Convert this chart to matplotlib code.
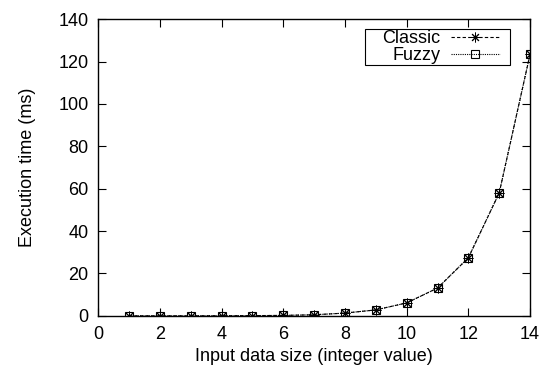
import matplotlib.pyplot as plt
from matplotlib.patches import Rectangle

plt.rcParams['font.family'] = ['Liberation Sans', 'DejaVu Sans']

# Execution time per input size (ms)
input_size = [1, 2, 3, 4, 5, 6, 7, 8, 9, 10, 11, 12, 13, 14]
classic_ms = [0.0, 0.0, 0.0, 0.05, 0.1, 0.2, 0.5, 1.3, 2.8, 6.1, 13.1, 27.4, 58.0, 123.5]
fuzzy_ms = [0.0, 0.0, 0.0, 0.05, 0.1, 0.2, 0.5, 1.3, 2.8, 6.1, 13.1, 27.4, 58.0, 123.5]

x_ticks = [0, 2, 4, 6, 8, 10, 12, 14]
y_ticks = [0, 20, 40, 60, 80, 100, 120, 140]

fig = plt.figure(figsize=(5.42, 3.76), dpi=100)
ax = fig.add_axes([0.181, 0.160, 0.797, 0.789])

ax.plot(input_size, classic_ms, color='black', linestyle=(0, (3, 2)), linewidth=0.8,
        marker=(8, 2, 0), markersize=7, markeredgewidth=0.7,
        label='Classic')
ax.plot(input_size, fuzzy_ms, color='black', linestyle=(0, (1, 1)), linewidth=0.8,
        marker='s', markersize=5.5, markerfacecolor='none', markeredgewidth=0.8,
        label='Fuzzy')

ax.set_xlim(0, 14)
ax.set_ylim(0, 140)
ax.set_xticks(x_ticks)
ax.set_yticks(y_ticks)
ax.tick_params(direction='in', length=6, width=0.8, top=True, right=True,
               labelsize=13, pad=7)
for spine in ax.spines.values():
    spine.set_linewidth(1.0)

ax.set_xlabel('Input data size (integer value)', fontsize=13, labelpad=4)
ax.set_ylabel('Execution time (ms)', fontsize=13, labelpad=16)

# gnuplot-like key: labels right-aligned before the samples
leg = ax.legend(loc='upper right', bbox_to_anchor=(0.93, 0.962), markerfirst=False,
                frameon=False, fontsize=13, handlelength=2.7,
                borderpad=0, labelspacing=0.0, handletextpad=0.6,
                borderaxespad=0)
leg.set_zorder(6)

# box around the key, wider at the sides than the legend's own frame
fig.canvas.draw()
bb = leg.get_window_extent().transformed(fig.transFigure.inverted())
px_w, px_h = 1 / fig.bbox.width, 1 / fig.bbox.height
box = Rectangle((bb.x0 - 17 * px_w, bb.y0 - 1 * px_h),
                bb.width + 27 * px_w, bb.height + 2 * px_h,
                transform=fig.transFigure, facecolor='white', edgecolor='black',
                linewidth=0.8, zorder=5, clip_on=False)
ax.add_artist(box)

fig.savefig('out.png', dpi=100)
